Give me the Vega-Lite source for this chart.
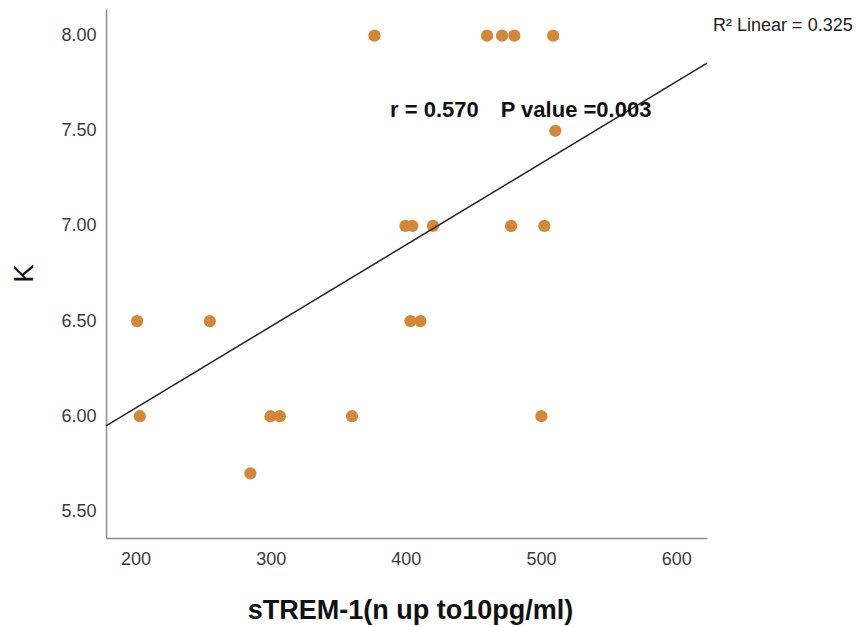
{
  "$schema": "https://vega.github.io/schema/vega-lite/v6.json",
  "autosize": {"type": "none"},
  "width": 601,
  "height": 529,
  "padding": {"left": 106, "top": 9, "right": 150, "bottom": 89},
  "background": "white",
  "config": {
    "view": {"stroke": null},
    "font": "Liberation Sans",
    "axis": {"grid": false, "ticks": false, "domainColor": "#8c8c8c", "domainWidth": 1.5, "labelFont": "Liberation Sans", "labelColor": "#3a3a3a", "labelFontSize": 18, "titleFont": "Liberation Sans", "titleColor": "#111111"}
  },
  "datasets": {
    "pts": [
      {"x": 376.8, "y": 8.0}, {"x": 460.1, "y": 8.0}, {"x": 471.2, "y": 8.0}, {"x": 480.3, "y": 8.0}, {"x": 509.0, "y": 8.0},
      {"x": 510.6, "y": 7.5},
      {"x": 399.7, "y": 7.0}, {"x": 404.8, "y": 7.0}, {"x": 420.1, "y": 7.0}, {"x": 477.9, "y": 7.0}, {"x": 502.5, "y": 7.0},
      {"x": 201.2, "y": 6.5}, {"x": 255.0, "y": 6.5}, {"x": 403.4, "y": 6.5}, {"x": 410.8, "y": 6.5},
      {"x": 203.2, "y": 6.0}, {"x": 299.9, "y": 6.0}, {"x": 306.8, "y": 6.0}, {"x": 360.2, "y": 6.0}, {"x": 500.3, "y": 6.0},
      {"x": 285.0, "y": 5.7}
    ],
    "fit": [
      {"x": 178.2, "y": 5.949},
      {"x": 622.8, "y": 7.855}
    ],
    "bold": [
      {"x": 388.3, "y": 7.571, "label": "r = 0.570"},
      {"x": 470.2, "y": 7.571, "label": "P value =0.003"}
    ],
    "r2": [
      {"x": 627.3, "y": 8.026, "label": "R² Linear = 0.325"}
    ]
  },
  "layer": [
    {
      "data": {"name": "pts"},
      "mark": {"type": "circle", "size": 150, "color": "#d0883a", "opacity": 1},
      "encoding": {
        "x": {"field": "x", "type": "quantitative", "scale": {"domain": [178.2, 622.8], "nice": false, "zero": false},
              "axis": {"values": [200, 300, 400, 500, 600], "labelPadding": 12, "title": "sTREM-1(n up to10pg/ml)", "titleFontSize": 27, "titleFontWeight": "bold", "titleBaseline": "alphabetic", "titleY": 80, "titleX": 304}},
        "y": {"field": "y", "type": "quantitative", "scale": {"domain": [5.36, 8.14], "nice": false, "zero": false},
              "axis": {"values": [5.5, 6.0, 6.5, 7.0, 7.5, 8.0], "format": ".2f", "labelPadding": 10, "title": "K", "titleFontSize": 28, "titleFontWeight": "normal", "titleAngle": -90, "titleBaseline": "alphabetic", "titleX": -74, "titleY": 264}}
      }
    },
    {
      "data": {"name": "fit"},
      "mark": {"type": "line", "color": "#222222", "strokeWidth": 1.5},
      "encoding": {
        "x": {"field": "x", "type": "quantitative"},
        "y": {"field": "y", "type": "quantitative"}
      }
    },
    {
      "data": {"name": "bold"},
      "mark": {"type": "text", "align": "left", "baseline": "alphabetic", "fontSize": 22, "fontWeight": "bold", "color": "#111111"},
      "encoding": {
        "x": {"field": "x", "type": "quantitative"},
        "y": {"field": "y", "type": "quantitative"},
        "text": {"field": "label"}
      }
    },
    {
      "data": {"name": "r2"},
      "mark": {"type": "text", "align": "left", "baseline": "alphabetic", "fontSize": 18, "color": "#222222"},
      "encoding": {
        "x": {"field": "x", "type": "quantitative"},
        "y": {"field": "y", "type": "quantitative"},
        "text": {"field": "label"}
      }
    }
  ]
}
